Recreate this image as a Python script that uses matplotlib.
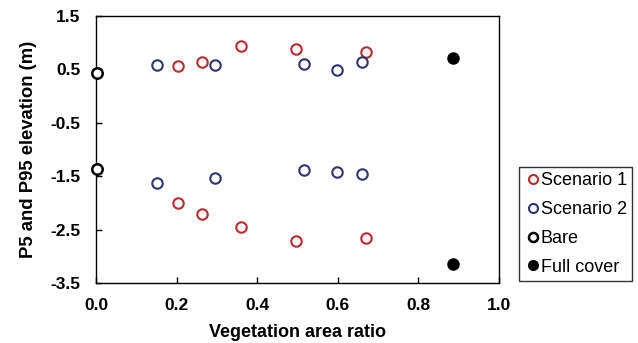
import matplotlib
matplotlib.use("Agg")
import matplotlib.pyplot as plt

plt.rcParams['font.family'] = ['Liberation Sans', 'DejaVu Sans']

s1_x = [0.204, 0.264, 0.359, 0.496, 0.669]
s1_p95 = [0.56, 0.64, 0.93, 0.89, 0.82]
s1_p5 = [-2.01, -2.21, -2.46, -2.72, -2.65]

s2_x = [0.151, 0.296, 0.517, 0.598, 0.660]
s2_p95 = [0.58, 0.58, 0.60, 0.49, 0.63]
s2_p5 = [-1.63, -1.53, -1.38, -1.43, -1.46]

bare_x = [0.003, 0.003]
bare_y = [0.44, -1.37]

full_x = [0.887, 0.887]
full_y = [0.71, -3.15]

xticks = [0.0, 0.2, 0.4, 0.6, 0.8, 1.0]
yticks = [1.5, 0.5, -0.5, -1.5, -2.5, -3.5]

red = '#C0282D'
blue = '#2E3570'

fig = plt.figure(figsize=(6.38, 3.43), dpi=100)
ax = fig.add_axes([96/638, 1 - 283/343, (499-96)/638, (283-16)/343])

ms = 7.5
mew = 1.5
ax.plot(s1_x + s1_x, s1_p95 + s1_p5, 'o', ls='none', mfc='white', mec=red, ms=ms, mew=mew, label='Scenario 1', clip_on=False)
ax.plot(s2_x + s2_x, s2_p95 + s2_p5, 'o', ls='none', mfc='white', mec=blue, ms=ms, mew=mew, label='Scenario 2', clip_on=False)
ax.plot(bare_x, bare_y, 'o', ls='none', mfc='white', mec='black', ms=ms, mew=1.8, label='Bare', clip_on=False, zorder=5)
ax.plot(full_x, full_y, 'o', ls='none', mfc='black', mec='black', ms=ms, mew=mew, label='Full cover', clip_on=False)

ax.set_xlim(0, 1)
ax.set_ylim(-3.5, 1.5)
ax.set_xticks(xticks)
ax.set_yticks(yticks)
ax.set_xticklabels([f'{v:.1f}' for v in xticks], fontweight='bold', fontsize=12.5)
ax.set_yticklabels([f'{v:.1f}' for v in yticks], fontweight='bold', fontsize=12.5)
ax.tick_params(direction='in', length=4, width=1)
ax.tick_params(axis='x', pad=11)
ax.tick_params(axis='y', pad=11)
for sp in ax.spines.values():
    sp.set_linewidth(1)
ax.set_xlabel('Vegetation area ratio', fontweight='bold', fontsize=13, labelpad=8)
ax.set_ylabel('P5 and P95 elevation (m)', fontweight='bold', fontsize=13.3, labelpad=10)

leg = fig.legend(loc='upper left', bbox_to_anchor=(519/638, 1 - 167/343), fontsize=13,
                 frameon=True, fancybox=False, edgecolor='black', handletextpad=0.0,
                 handlelength=0.9, borderpad=0.3, labelspacing=0.65, borderaxespad=0)
leg.get_frame().set_linewidth(1)
for h in leg.legend_handles:
    h.set_markersize(6.5)

fig.savefig('out.png', dpi=100)
